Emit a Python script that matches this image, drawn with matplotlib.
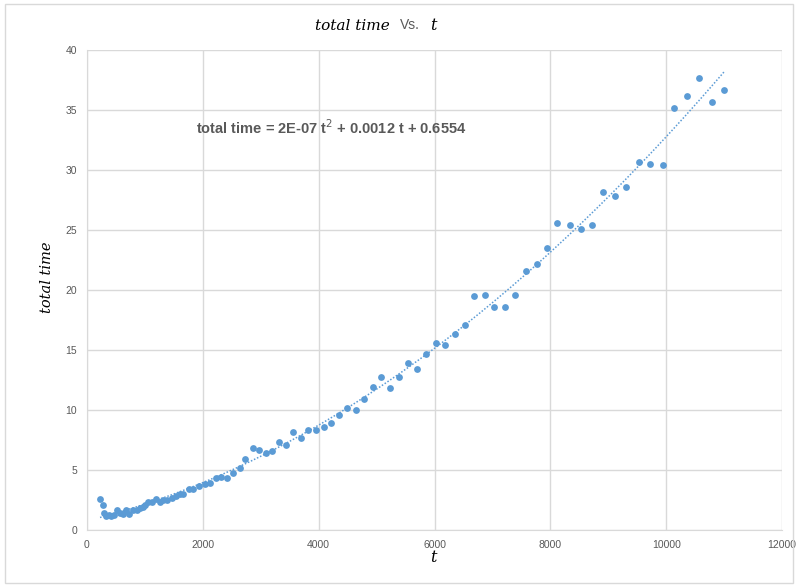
import numpy as np
import matplotlib
matplotlib.use("Agg")
import matplotlib.pyplot as plt
from matplotlib.patches import Rectangle

# values
t = [225, 270, 294, 328, 374, 420, 466, 524, 570, 616, 668, 731, 800, 858,
     915, 962, 1002, 1059, 1117, 1186, 1261, 1318, 1387, 1468, 1537, 1606,
     1652, 1756, 1825, 1929, 2033, 2118, 2225, 2320, 2412, 2516, 2642, 2734,
     2862, 2976, 3086, 3200, 3316, 3437, 3563, 3691, 3812, 3955, 4088, 4214,
     4345, 4491, 4640, 4779, 4934, 5083, 5238, 5389, 5544, 5705, 5860, 6022,
     6188, 6358, 6523, 6684, 6868, 7035, 7214, 7398, 7588, 7767, 7945, 8123,
     8336, 8524, 8722, 8906, 9114, 9309, 9528, 9729, 9943, 10143, 10357,
     10575, 10794, 11002]
total_time = [2.6, 2.1, 1.4, 1.2, 1.25, 1.2, 1.25, 1.65, 1.45, 1.35, 1.7, 1.35,
              1.7, 1.7, 1.85, 1.95, 2.1, 2.3, 2.3, 2.55, 2.3, 2.5, 2.5, 2.65,
              2.8, 3.0, 3.0, 3.45, 3.4, 3.65, 3.85, 3.88, 4.32, 4.45, 4.35,
              4.75, 5.15, 5.9, 6.8, 6.7, 6.45, 6.6, 7.3, 7.1, 8.2, 7.7, 8.3,
              8.3, 8.55, 8.95, 9.6, 10.2, 10.0, 10.95, 11.9, 12.75, 11.85,
              12.75, 13.9, 13.4, 14.65, 15.55, 15.4, 16.3, 17.1, 19.5, 19.6,
              18.6, 18.55, 19.55, 21.55, 22.2, 23.5, 25.6, 25.45, 25.1, 25.45,
              28.2, 27.8, 28.6, 30.65, 30.5, 30.45, 35.2, 36.2, 37.65, 35.7,
              36.7]
x_ticks = [0, 2000, 4000, 6000, 8000, 10000, 12000]
y_ticks = [0, 5, 10, 15, 20, 25, 30, 35, 40]
equation = "total time = 2E-07 t$^2$ + 0.0012 t + 0.6554"

blue = "#5B9BD5"
grey_txt = "#595959"
grid_col = "#D9D9D9"

fig = plt.figure(figsize=(7.98, 5.87), dpi=100)
ax = fig.add_axes([87 / 798, 57 / 587, 695 / 798, 480 / 587])

ax.scatter(t, total_time, s=24, color=blue, zorder=3, linewidths=0)

# 2nd order polynomial trendline
coef = np.polyfit(t, total_time, 2)
tt = np.linspace(min(t), max(t), 300)
ax.plot(tt, np.polyval(coef, tt), color=blue, linestyle=(0, (1, 1.2)),
        linewidth=1.1, zorder=2)

ax.set_xlim(0, 12000)
ax.set_ylim(0, 40)
ax.set_xticks(x_ticks)
ax.set_yticks(y_ticks)
ax.grid(True, color=grid_col, linewidth=1)
ax.set_axisbelow(True)
for side in ["top", "right"]:
    ax.spines[side].set_visible(False)
for side in ["left", "bottom"]:
    ax.spines[side].set_color(grid_col)
ax.tick_params(length=0, labelsize=7.5, labelcolor=grey_txt, pad=7)
for lab in ax.get_xticklabels() + ax.get_yticklabels():
    lab.set_family("Liberation Sans")

serif_it = dict(family="DejaVu Serif", style="italic", color="black")
fig.text(433 / 798, 1 - 558 / 587, "t", ha="center", va="center",
         fontsize=11.5, **serif_it)
fig.text(47 / 798, 1 - 277 / 587, "total time", ha="center", va="center",
         rotation=90, fontsize=10.5, **serif_it)

# title: italic parts with a plain "Vs." between them
fig.text(352 / 798, 1 - 26 / 587, "total time", ha="center", va="center",
         fontsize=11, **serif_it)
fig.text(410 / 798, 1 - 25 / 587, "Vs.", ha="center", va="center",
         fontsize=10, color=grey_txt, family="Liberation Sans")
fig.text(433 / 798, 1 - 26 / 587, "t", ha="center", va="center",
         fontsize=11.5, **serif_it)

ax.text(331 / 798, 1 - 128 / 587, equation, transform=fig.transFigure,
        ha="center", va="center", fontsize=10.5, fontweight="bold",
        color=grey_txt, family="Liberation Sans")

fig.patches.append(Rectangle((5 / 798, 4 / 587), 788 / 798, 579 / 587,
                             transform=fig.transFigure, fill=False,
                             edgecolor=grid_col, linewidth=1))

fig.savefig("out.png", dpi=100, facecolor="white")
